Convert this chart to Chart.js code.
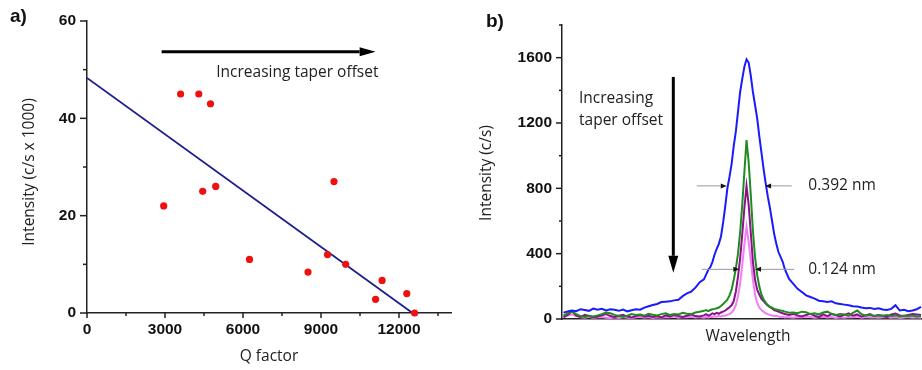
<!DOCTYPE html>
<html>
<head>
<meta charset="utf-8">
<script src="https://cdn.jsdelivr.net/npm/chart.js@4.4.1/dist/chart.umd.min.js"></script>
<style>
  body { margin: 0; background: #fff; }
  #wrap { position: relative; width: 922px; height: 370px; }
  #chartA { position: absolute; left: 0; top: 0; }
  #chartB { position: absolute; left: 460px; top: 0; }
</style>
</head>
<body>
<div id="wrap">
  <canvas id="chartA" width="460" height="370"></canvas>
  <canvas id="chartB" width="462" height="370"></canvas>
</div>
<script>
// --- panel a: intensity vs Q factor ---
const qFactor   = [2950, 3600, 4300, 4750, 4450, 4950, 6250, 8500, 9250, 9500, 9950, 11350, 11100, 12300, 12600];
const intensity = [22, 45, 45, 43, 25, 26, 11, 8.4, 12, 27, 10, 6.7, 2.8, 4, 0];
const fitQ = [0, 12520];
const fitI = [48.3, 0];
const qTicks = [0, 3000, 6000, 9000, 12000];
const qMinor = [1500, 4500, 7500, 10500, 13500];
const iTicks = [0, 20, 40, 60];
const iMinor = [10, 30, 50];

// --- panel b: spectra (wavelength offset from peak, nm) ---
const wavelength = [
  -1.72, -1.68, -1.64, -1.60, -1.56, -1.52, -1.48, -1.44, -1.40, -1.36, -1.32, -1.28, -1.24, -1.20, -1.16, -1.12,
  -1.08, -1.04, -1.00, -0.96, -0.92, -0.88, -0.84, -0.80, -0.76, -0.72, -0.68, -0.64, -0.60, -0.56, -0.52, -0.48, -0.44,
  -0.40, -0.38, -0.36, -0.34, -0.32, -0.30, -0.28, -0.26, -0.24, -0.22, -0.20, -0.18, -0.16, -0.14, -0.12, -0.10,
  -0.08, -0.06, -0.04, -0.02, 0, 0.02, 0.04, 0.06, 0.08, 0.10, 0.12, 0.14, 0.16, 0.18, 0.20, 0.22, 0.24, 0.26,
  0.28, 0.30, 0.32, 0.34, 0.36, 0.38, 0.40,
  0.44, 0.48, 0.52, 0.56, 0.60, 0.64, 0.68, 0.72, 0.76, 0.80, 0.84, 0.88, 0.92, 0.96, 1.00, 1.04,
  1.08, 1.12, 1.16, 1.20, 1.24, 1.28, 1.32, 1.36, 1.40, 1.44, 1.48, 1.52, 1.56, 1.60, 1.64
];
const specBlue = [
  39, 46, 52, 48, 60, 55, 50, 64, 57, 62, 52, 60, 56, 50, 58, 47,
  54, 60, 57, 70, 78, 86, 92, 104, 106, 108, 114, 118, 140, 157, 168, 192, 225,
  243, 272, 300, 318, 350, 395, 430, 460, 505, 590, 690, 800, 870, 950, 1060, 1150,
  1270, 1390, 1470, 1545, 1590, 1570, 1490, 1390, 1310, 1230, 1120, 1020, 920, 830, 750, 680, 600, 520,
  460, 410, 380, 350, 305, 275, 245,
  215, 185, 165, 145, 135, 125, 112, 108, 104, 108, 96, 92, 88, 84, 78, 76,
  70, 66, 68, 62, 66, 58, 55, 62, 84, 52, 56, 48, 52, 60, 74
];
const specGreen = [
  20, 35, 45, 30, 18, 12, 20, 15, 22, 30, 40, 35, 25, 18, 14, 20,
  30, 25, 28, 20, 32, 26, 22, 30, 35, 25, 30, 28, 38, 32, 30, 40, 45,
  50, 55, 48, 55, 60, 62, 66, 70, 80, 92, 105, 118, 145, 180, 240, 310,
  400, 530, 700, 900, 1095, 960, 760, 540, 380, 270, 200, 150, 120, 100, 85, 75, 70, 62,
  58, 55, 52, 50, 45, 42, 38,
  40, 35, 45, 42, 30, 35, 28, 40, 45, 32, 25, 30, 28, 20, 38, 52,
  30, 22, 25, 18, 22, 20, 24, 18, 22, 15, 20, 18, 22, 16, 18
];
const specPurple = [
  10, 25, 48, 20, 12, 25, 18, 10, 15, 22, 30, 18, 12, 20, 26, 15,
  10, 18, 25, 14, 20, 12, 18, 10, 22, 15, 25, 18, 12, 20, 28, 18, 15,
  22, 30, 20, 25, 35, 30, 38, 32, 40, 45, 52, 62, 72, 85, 110, 170,
  260, 370, 520, 680, 815, 700, 530, 350, 240, 180, 150, 125, 110, 95, 82, 72, 65, 55,
  50, 45, 40, 35, 30, 28, 25,
  30, 22, 15, 25, 32, 20, 12, 28, 18, 30, 22, 15, 25, 35, 20, 28,
  15, 22, 30, 18, 25, 20, 12, 28, 34, 22, 18, 25, 30, 28, 24
];
const specPink = [
  15, 22, 28, 18, 10, 8, 14, 6, 10, 12, 8, 5, 10, 6, 12, 8,
  5, 10, 14, 8, 12, 6, 10, 8, 12, 10, 15, 8, 12, 10, 14, 9, 12,
  8, 12, 10, 14, 12, 16, 14, 18, 16, 20, 22, 26, 30, 40, 55, 85,
  140, 220, 330, 460, 565, 470, 360, 240, 150, 100, 70, 55, 45, 35, 30, 25, 22, 18,
  20, 15, 12, 15, 10, 12, 10,
  8, 12, 10, 15, 12, 8, 10, 14, 9, 12, 6, 10, 8, 12, 10, 15,
  8, 12, 9, 11, 7, 10, 12, 8, 10, 6, 9, 12, 8, 10, 7
];
const bTicks = [0, 400, 800, 1200, 1600];
const bMinor = [200, 600, 1000, 1400, 1800];

const AXIS = '#222';
const TICK_FONT = { family: '"Liberation Sans", Arial, sans-serif', size: 15.5, weight: 'bold' };
const TEXT_FONT = '15.5px "Open Sans", sans-serif';
const plain = v => String(v);

function tickMarks(chart, id, major, minor, majLen, minLen) {
  const s = chart.scales[id];
  const ctx = chart.ctx;
  ctx.save();
  ctx.strokeStyle = AXIS;
  ctx.lineWidth = 1.5;
  const mark = (v, len) => {
    const p = s.getPixelForValue(v);
    ctx.beginPath();
    if (s.isHorizontal()) { ctx.moveTo(p, s.top); ctx.lineTo(p, s.top + len); }
    else { ctx.moveTo(s.right, p); ctx.lineTo(s.right - len, p); }
    ctx.stroke();
  };
  major.forEach(v => mark(v, majLen));
  minor.forEach(v => mark(v, minLen));
  ctx.restore();
}

function arrow(ctx, x1, y1, x2, y2, o) {
  const ang = Math.atan2(y2 - y1, x2 - x1);
  const bx = x2 - Math.cos(ang) * o.head;
  const by = y2 - Math.sin(ang) * o.head;
  ctx.strokeStyle = o.line;
  ctx.lineWidth = o.width;
  ctx.beginPath(); ctx.moveTo(x1, y1); ctx.lineTo(bx, by); ctx.stroke();
  ctx.fillStyle = o.fill;
  ctx.beginPath();
  ctx.moveTo(x2, y2);
  ctx.lineTo(bx + Math.sin(ang) * o.half, by - Math.cos(ang) * o.half);
  ctx.lineTo(bx - Math.sin(ang) * o.half, by + Math.cos(ang) * o.half);
  ctx.closePath();
  ctx.fill();
}

function text(ctx, str, x, y, opts = {}) {
  ctx.save();
  ctx.font = opts.font || TEXT_FONT;
  ctx.fillStyle = opts.color || '#222';
  ctx.textAlign = opts.align || 'center';
  ctx.textBaseline = opts.baseline || 'middle';
  ctx.translate(x, y);
  if (opts.rotate) ctx.rotate(opts.rotate);
  ctx.fillText(str, 0, 0);
  ctx.restore();
}

// extra drawing for panel a: tick marks, titles, arrow
const decorA = {
  id: 'decorA',
  afterDraw(chart) {
    const { ctx, chartArea: area, scales: { x, y } } = chart;
    tickMarks(chart, 'x', qTicks, qMinor, 5, 3);
    tickMarks(chart, 'y', iTicks, iMinor, 7, 4);
    text(ctx, 'a)', 10, 22, { font: 'bold 19px "Liberation Sans", Arial', align: 'left', baseline: 'alphabetic', color: '#111' });
    text(ctx, 'Q factor', (area.left + area.right) / 2, 357);
    text(ctx, 'Intensity (c/s x 1000)', area.left - 57, (area.top + area.bottom) / 2 + 5, { rotate: -Math.PI / 2 });
    ctx.save();
    arrow(ctx, x.getPixelForValue(2870), y.getPixelForValue(53.7), x.getPixelForValue(11100), y.getPixelForValue(53.7),
      { head: 16, half: 4.5, width: 3, line: '#000', fill: '#000' });
    ctx.restore();
    text(ctx, 'Increasing taper offset', x.getPixelForValue(4970), y.getPixelForValue(49.4), { align: 'left' });
  }
};

// extra drawing for panel b: tick marks, titles, arrows, widths
const decorB = {
  id: 'decorB',
  afterDraw(chart) {
    const { ctx, chartArea: area, scales: { x, y } } = chart;
    tickMarks(chart, 'y', bTicks, bMinor, 6, 3);
    text(ctx, 'b)', 26, 27, { font: 'bold 19px "Liberation Sans", Arial', align: 'left', baseline: 'alphabetic', color: '#111' });
    text(ctx, 'Wavelength', 288, 337);
    text(ctx, 'Intensity (c/s)', area.left - 75, (area.top + area.bottom) / 2 + 1, { rotate: -Math.PI / 2 });
    ctx.save();
    arrow(ctx, x.getPixelForValue(-0.688), y.getPixelForValue(1482), x.getPixelForValue(-0.688), y.getPixelForValue(283),
      { head: 17, half: 5, width: 3, line: '#000', fill: '#000' });
    const fw = { head: 6, half: 2.5, width: 1, line: '#999', fill: '#111' };
    arrow(ctx, x.getPixelForValue(-0.468), y.getPixelForValue(815), x.getPixelForValue(-0.186), y.getPixelForValue(815), fw);
    arrow(ctx, x.getPixelForValue(0.425), y.getPixelForValue(815), x.getPixelForValue(0.174), y.getPixelForValue(815), fw);
    arrow(ctx, x.getPixelForValue(-0.421), y.getPixelForValue(304), x.getPixelForValue(-0.068), y.getPixelForValue(304), fw);
    arrow(ctx, x.getPixelForValue(0.449), y.getPixelForValue(304), x.getPixelForValue(0.080), y.getPixelForValue(304), fw);
    ctx.restore();
    text(ctx, 'Increasing', x.getPixelForValue(-1.574), y.getPixelForValue(1350), { align: 'left' });
    text(ctx, 'taper offset', x.getPixelForValue(-1.574), y.getPixelForValue(1217), { align: 'left' });
    text(ctx, '0.392 nm', x.getPixelForValue(0.581), y.getPixelForValue(815), { align: 'left' });
    text(ctx, '0.124 nm', x.getPixelForValue(0.581), y.getPixelForValue(304), { align: 'left' });
  }
};

new Chart(document.getElementById('chartA'), {
  data: {
    datasets: [
      {
        type: 'scatter',
        data: qFactor.map((q, i) => ({ x: q, y: intensity[i] })),
        backgroundColor: '#f01010',
        borderWidth: 0,
        pointRadius: 3.6,
        clip: false,
      },
      {
        type: 'line',
        data: fitQ.map((q, i) => ({ x: q, y: fitI[i] })),
        borderColor: '#1c1c8c',
        borderWidth: 1.8,
        pointRadius: 0,
      },
    ],
  },
  options: {
    responsive: false,
    animation: false,
    layout: { padding: { top: 21, right: 9, left: 0, bottom: 0 } },
    plugins: { legend: { display: false }, tooltip: { enabled: false } },
    scales: {
      x: {
        type: 'linear', min: 0, max: 14000,
        afterBuildTicks: s => { s.ticks = qTicks.map(v => ({ value: v })); },
        afterFit: s => { s.height = 57; },
        grid: { display: false, drawTicks: false },
        border: { color: AXIS, width: 1.5 },
        ticks: { font: TICK_FONT, color: '#111', padding: 7, maxRotation: 0, callback: plain },
      },
      y: {
        type: 'linear', min: 0, max: 60,
        afterBuildTicks: s => { s.ticks = iTicks.map(v => ({ value: v })); },
        afterFit: s => { s.width = 87; },
        grid: { display: false, drawTicks: false },
        border: { color: AXIS, width: 1.5 },
        ticks: { font: TICK_FONT, color: '#111', padding: 11, callback: plain },
      },
    },
  },
  plugins: [decorA],
});

const spectra = [
  { values: specBlue, color: '#1a1aff' },
  { values: specGreen, color: '#1e8c1e' },
  { values: specPurple, color: '#8a128a' },
  { values: specPink, color: '#f47cf4' },
];

new Chart(document.getElementById('chartB'), {
  type: 'line',
  data: {
    datasets: spectra.map(s => ({
      data: wavelength.map((w, i) => ({ x: w, y: s.values[i] })),
      borderColor: s.color,
      borderWidth: 2,
      pointRadius: 0,
      tension: 0,
    })),
  },
  options: {
    responsive: false,
    animation: false,
    layout: { padding: { top: 25, right: 0, left: 0, bottom: 0 } },
    plugins: { legend: { display: false }, tooltip: { enabled: false } },
    scales: {
      x: {
        type: 'linear', min: -1.734, max: 1.649,
        afterFit: s => { s.height = 51; },
        grid: { display: false, drawTicks: false },
        border: { color: AXIS, width: 1.5 },
        ticks: { display: false },
      },
      y: {
        type: 'linear', min: 0, max: 1800,
        afterBuildTicks: s => { s.ticks = bTicks.map(v => ({ value: v })); },
        afterFit: s => { s.width = 102; },
        grid: { display: false, drawTicks: false },
        border: { color: AXIS, width: 1.5 },
        ticks: { font: TICK_FONT, color: '#111', padding: 10, callback: plain },
      },
    },
  },
  plugins: [decorB],
});
</script>
</body>
</html>
